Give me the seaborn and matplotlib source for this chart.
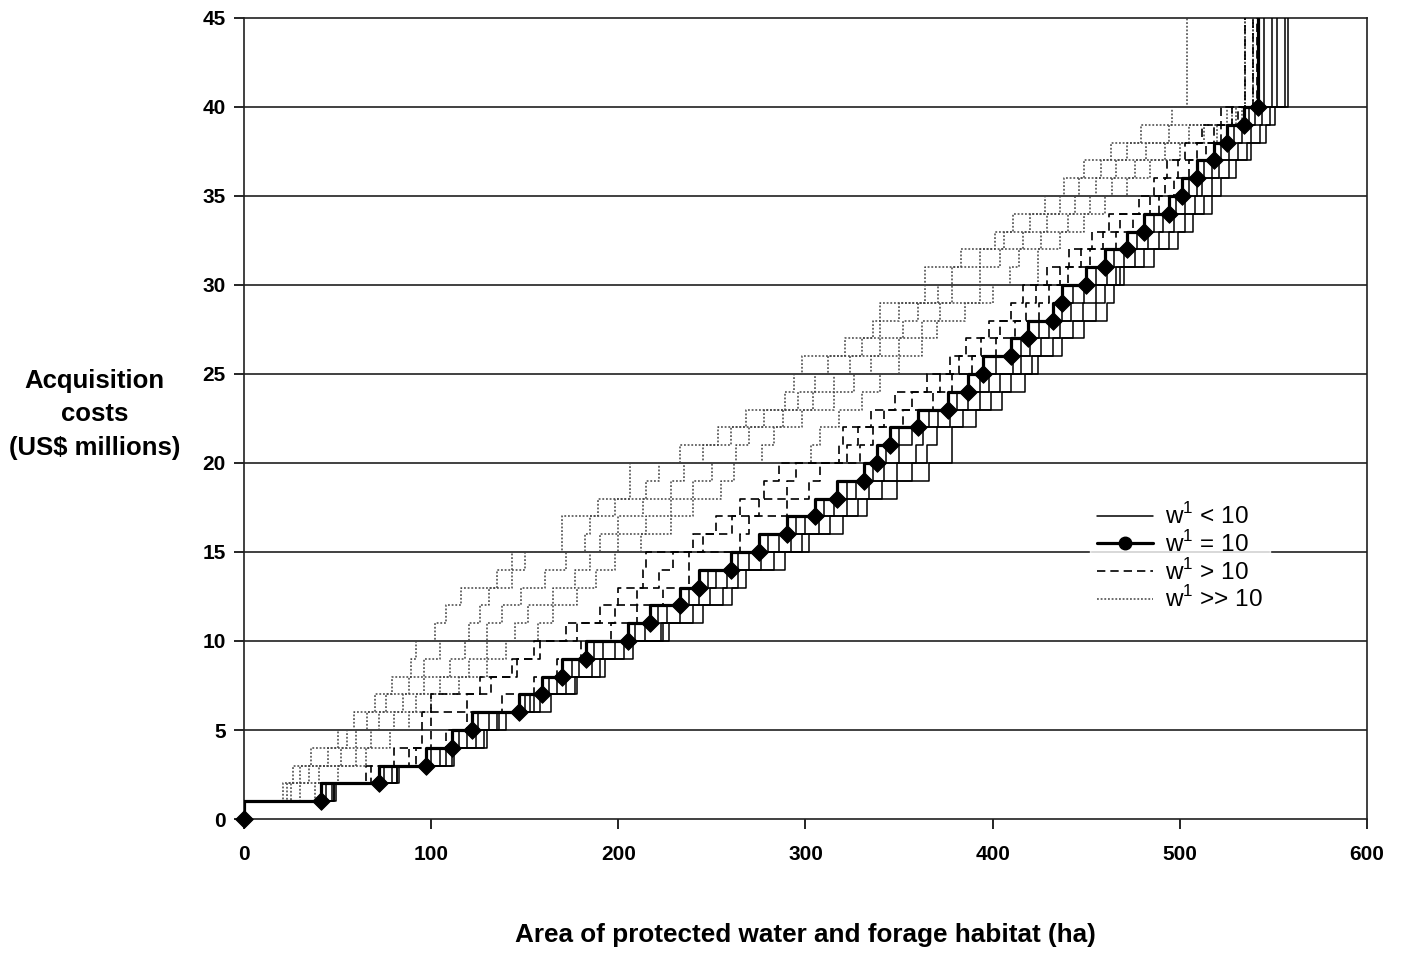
import matplotlib
matplotlib.use("Agg")
import matplotlib.pyplot as plt
from matplotlib.lines import Line2D
import seaborn as sns

# cost levels (US$ millions) reached by each selection step
cost_levels = [0, 1, 2, 3, 4, 5, 6, 7, 8, 9, 10, 11, 12, 13, 14, 15, 16, 17, 18, 19, 20,
               21, 22, 23, 24, 25, 26, 27, 28, 29, 30, 31, 32, 33, 34, 35, 36, 37, 38, 39, 40]
top_cost = 45

# area (ha) at which each cost level is left, w1 = 10
area_w10 = [0, 41, 72, 97, 111, 122, 147, 159, 170, 183, 205, 217, 233, 243, 260, 275, 290,
            305, 317, 331, 338, 345, 360, 376, 387, 395, 410, 419, 432, 437, 450, 460, 472,
            481, 494, 501, 509, 518, 525, 534, 542]

# w1 < 10
area_lt_a = [0, 44, 75, 100, 115, 125, 150, 163, 175, 187, 209, 221, 238, 248, 264, 280, 295,
             310, 322, 336, 343, 350, 366, 381, 393, 402, 415, 425, 437, 443, 455, 465, 477,
             486, 498, 505, 513, 522, 529, 537, 545]
area_lt_b = [0, 47, 79, 105, 119, 131, 153, 167, 179, 192, 214, 226, 243, 252, 270, 286, 300,
             315, 327, 342, 350, 357, 371, 387, 398, 411, 420, 430, 442, 449, 461, 470, 483,
             491, 503, 509, 517, 526, 533, 540, 549]
area_lt_c = [0, 48, 82, 108, 124, 135, 158, 172, 186, 198, 223, 233, 249, 258, 276, 292, 307,
             322, 334, 349, 359, 363, 377, 393, 404, 415, 426, 436, 448, 455, 466, 476, 489,
             497, 508, 512, 521, 531, 538, 544, 552]
area_lt_d = [0, 48, 82, 111, 128, 140, 164, 177, 190, 203, 227, 240, 256, 264, 283, 298, 313,
             328, 341, 357, 365, 370, 384, 399, 410, 421, 432, 443, 455, 460, 470, 481, 494,
             503, 513, 517, 526, 536, 543, 548, 556]
area_lt_e = [0, 49, 83, 112, 130, 136, 155, 178, 193, 208, 224, 245, 261, 268, 289, 302, 320,
             333, 349, 366, 378, 378, 391, 405, 417, 424, 437, 449, 461, 465, 468, 486, 499,
             507, 517, 522, 530, 538, 546, 551, 558]

# w1 > 10
area_gt_a = [0, 41, 65, 80, 95, 95, 100, 126, 143, 155, 172, 190, 200, 213, 215, 240, 252,
             265, 278, 286, 318, 320, 335, 348, 365, 377, 386, 398, 410, 416, 429, 441, 453,
             462, 478, 486, 493, 503, 512, 522, 535]
area_gt_b = [0, 41, 68, 88, 100, 100, 119, 132, 146, 158, 178, 198, 210, 222, 229, 245, 261,
             275, 290, 295, 322, 328, 342, 357, 372, 382, 394, 404, 418, 423, 436, 447, 459,
             468, 484, 492, 499, 509, 518, 528, 539]
area_gt_c = [0, 41, 72, 92, 108, 119, 138, 155, 167, 180, 196, 210, 224, 238, 238, 265, 270,
             290, 302, 308, 329, 336, 352, 368, 378, 389, 402, 412, 425, 430, 440, 452, 466,
             475, 489, 497, 505, 514, 522, 531, 541]

# w1 >> 10
area_gg_a = [0, 21, 26, 36, 50, 59, 70, 79, 89, 92, 102, 108, 116, 135, 143, 170, 170, 189,
             206, 206, 233, 253, 268, 289, 294, 298, 321, 336, 340, 364, 364, 383, 401, 411,
             428, 438, 449, 463, 479, 496, 504]
area_gg_b = [0, 23, 30, 45, 55, 66, 76, 88, 96, 105, 120, 126, 131, 143, 150, 182, 185, 198,
             215, 222, 245, 260, 278, 296, 305, 312, 330, 340, 350, 371, 378, 393, 406, 420,
             436, 446, 458, 472, 494, 525, 535]
area_gg_c = [0, 25, 35, 52, 60, 72, 85, 96, 110, 118, 130, 138, 148, 161, 172, 190, 200, 213,
             228, 235, 263, 270, 288, 304, 315, 324, 340, 352, 360, 378, 393, 404, 416, 429,
             444, 455, 466, 482, 505, 528, 535]
area_gg_d = [0, 30, 40, 60, 68, 80, 92, 105, 120, 130, 145, 152, 165, 177, 185, 200, 215, 228,
             240, 250, 277, 283, 298, 315, 326, 335, 350, 362, 372, 393, 409, 414, 426, 440,
             452, 464, 476, 492, 513, 530, 539]
area_gg_e = [0, 38, 50, 65, 78, 88, 100, 115, 130, 140, 157, 165, 178, 188, 198, 212, 228, 240,
             255, 262, 303, 308, 318, 330, 340, 350, 362, 370, 385, 400, 424, 424, 436, 449,
             460, 472, 484, 500, 520, 533, 539]

legend_labels = ["w$^1$ < 10", "w$^1$ = 10", "w$^1$ > 10", "w$^1$ >> 10"]


def step_curve(ax, areas, **kws):
    # curve climbs to the top of the axis after the last level
    xs = areas + [areas[-1]]
    ys = cost_levels + [top_cost]
    sns.lineplot(x=xs, y=ys, ax=ax, estimator=None, sort=False,
                 drawstyle="steps-pre", legend=False, **kws)


sns.set_style("ticks")
plt.rcParams["font.family"] = ["Liberation Sans", "DejaVu Sans"]
plt.rcParams["mathtext.fontset"] = "custom"
plt.rcParams["mathtext.rm"] = "Liberation Sans"
for key in ["text.color", "axes.labelcolor", "xtick.color", "ytick.color"]:
    plt.rcParams[key] = "black"

fig = plt.figure(figsize=(14.06, 9.55), dpi=100)
ax = fig.add_axes([0.1735, 0.1424, 0.7988, 0.8388])

for y in [5, 10, 15, 20, 25, 30, 35, 40]:
    ax.axhline(y, color="#202020", lw=1.2, zorder=1)

for areas in [area_gg_a, area_gg_b, area_gg_c, area_gg_d, area_gg_e]:
    step_curve(ax, areas, color="#444444", lw=1.1, linestyle=(0, (1.2, 1.2)), zorder=2)
for areas in [area_gt_a, area_gt_b, area_gt_c]:
    step_curve(ax, areas, color="black", lw=1.2, linestyle=(0, (5, 3)), zorder=3)
for areas in [area_lt_a, area_lt_b, area_lt_c, area_lt_d, area_lt_e]:
    step_curve(ax, areas, color="black", lw=1.1, linestyle="-", zorder=3)
step_curve(ax, area_w10, color="black", lw=2.3, linestyle="-", zorder=4)
sns.scatterplot(x=area_w10, y=cost_levels, ax=ax, marker="D", s=80, color="black",
                edgecolor="black", zorder=5, legend=False, clip_on=False)

ax.set_xlim(0, 600)
ax.set_ylim(0, 45)
ax.set_xticks([0, 100, 200, 300, 400, 500, 600])
ax.set_yticks([0, 5, 10, 15, 20, 25, 30, 35, 40, 45])
ax.tick_params(axis="both", direction="out", length=7, width=1.2, labelsize=15)
ax.tick_params(axis="x", pad=12)
ax.tick_params(axis="y", pad=6)
for lab in ax.get_xticklabels() + ax.get_yticklabels():
    lab.set_fontweight("bold")
for side in ["top", "right", "left", "bottom"]:
    ax.spines[side].set_visible(True)
    ax.spines[side].set_color("#202020")
    ax.spines[side].set_linewidth(1.2)

ax.set_xlabel("Area of protected water and forage habitat (ha)", fontsize=18.8,
              fontweight="bold", va="center")
ax.xaxis.set_label_coords(0.5, -0.1448)
ax.set_ylabel("Acquisition\ncosts\n(US\\$ millions)", fontsize=18.5, fontweight="bold",
              rotation=0, ha="center", va="center", linespacing=1.5)
ax.yaxis.set_label_coords(-0.133, 0.505)

handles = [
    Line2D([], [], color="black", lw=1.1),
    Line2D([], [], color="black", lw=2.3, marker="o", markersize=9),
    Line2D([], [], color="black", lw=1.2, linestyle=(0, (5, 3))),
    Line2D([], [], color="#444444", lw=1.1, linestyle=(0, (1.2, 1.2))),
]
leg = ax.legend(handles, legend_labels, loc="upper left", bbox_to_anchor=(0.753, 0.403),
                frameon=True, fontsize=17.5, handlelength=2.3, handletextpad=0.5,
                labelspacing=0.07, borderpad=0.3, borderaxespad=0)
leg.get_frame().set_facecolor("white")
leg.get_frame().set_edgecolor("white")
leg.set_zorder(6)

fig.savefig("out.png", dpi=100)
